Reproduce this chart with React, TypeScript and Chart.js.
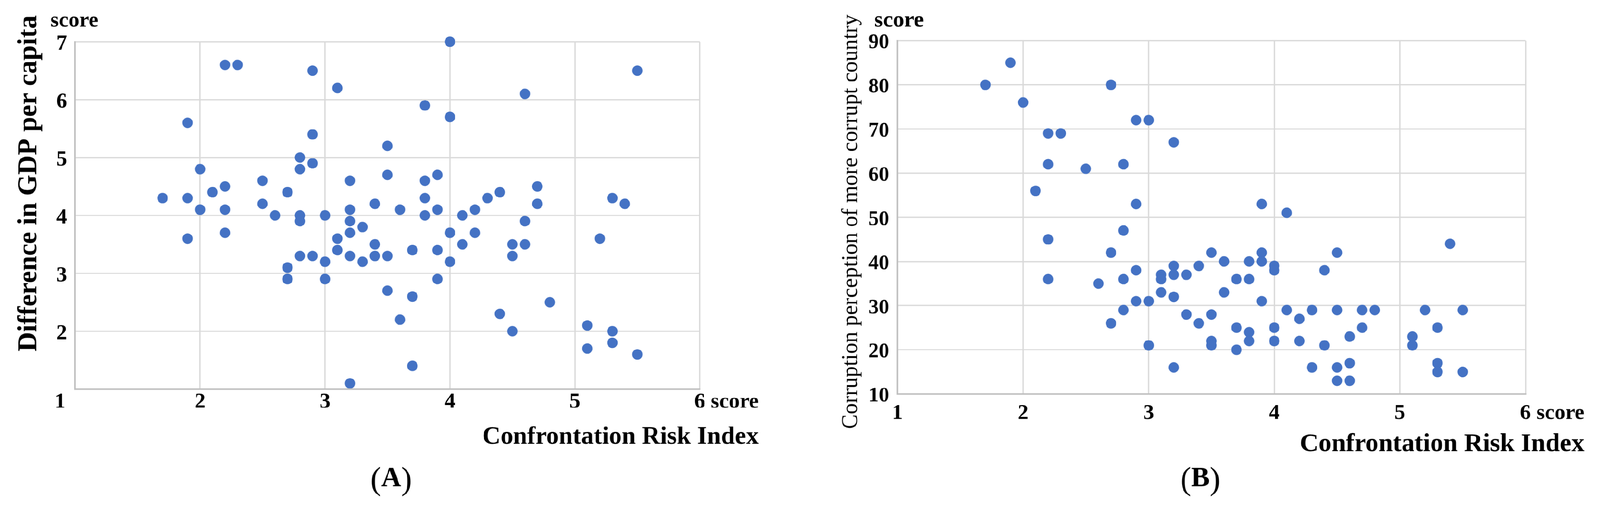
import React, { useEffect, useRef, useState } from "react";
import { Chart, registerables } from "chart.js";

Chart.register(...registerables);

// ---------- Data ----------
// Panel A: Confrontation Risk Index vs Difference in GDP per capita
const riskA = [
  1.7, 1.9, 1.9, 1.9, 2.0, 2.0, 2.1, 2.2, 2.3, 2.2,
  2.2, 2.2, 2.5, 2.5, 2.6, 2.7, 2.7, 2.7, 2.8, 2.8,
  2.8, 2.8, 2.8, 2.9, 2.9, 2.9, 2.9, 3.0, 3.0, 3.0,
  3.1, 3.1, 3.1, 3.2, 3.2, 3.2, 3.2, 3.2, 3.2, 3.3,
  3.3, 3.4, 3.4, 3.4, 3.5, 3.5, 3.5, 3.5, 3.6, 3.6,
  3.7, 3.7, 3.7, 3.8, 3.8, 3.8, 3.8, 3.9, 3.9, 3.9,
  3.9, 4.0, 4.0, 4.0, 4.0, 4.1, 4.1, 4.2, 4.2, 4.3,
  4.4, 4.4, 4.5, 4.5, 4.5, 4.6, 4.6, 4.6, 4.7, 4.7,
  4.8, 5.1, 5.1, 5.2, 5.3, 5.3, 5.3, 5.4, 5.5, 5.5,
];
const gdpDiff = [
  4.3, 5.6, 4.3, 3.6, 4.8, 4.1, 4.4, 6.6, 6.6, 4.5,
  4.1, 3.7, 4.6, 4.2, 4.0, 4.4, 3.1, 2.9, 5.0, 4.8,
  4.0, 3.9, 3.3, 6.5, 5.4, 4.9, 3.3, 4.0, 3.2, 2.9,
  6.2, 3.6, 3.4, 4.6, 4.1, 3.9, 3.7, 3.3, 1.1, 3.8,
  3.2, 4.2, 3.5, 3.3, 5.2, 4.7, 3.3, 2.7, 4.1, 2.2,
  3.4, 2.6, 1.4, 5.9, 4.6, 4.3, 4.0, 4.7, 4.1, 3.4,
  2.9, 7.0, 5.7, 3.7, 3.2, 4.0, 3.5, 4.1, 3.7, 4.3,
  4.4, 2.3, 3.5, 3.3, 2.0, 6.1, 3.9, 3.5, 4.5, 4.2,
  2.5, 2.1, 1.7, 3.6, 4.3, 2.0, 1.8, 4.2, 6.5, 1.6,
];

// Panel B: Confrontation Risk Index vs Corruption perception of more corrupt country
const riskB = [
  1.7, 1.9, 2.0, 2.1, 2.2, 2.2, 2.2, 2.2, 2.3, 2.5,
  2.6, 2.7, 2.7, 2.7, 2.8, 2.8, 2.8, 2.8, 2.9, 2.9,
  2.9, 2.9, 3.0, 3.0, 3.0, 3.1, 3.1, 3.1, 3.2, 3.2,
  3.2, 3.2, 3.2, 3.3, 3.3, 3.4, 3.4, 3.5, 3.5, 3.5,
  3.5, 3.6, 3.6, 3.7, 3.7, 3.7, 3.8, 3.8, 3.8, 3.8,
  3.9, 3.9, 3.9, 3.9, 4.0, 4.0, 4.0, 4.0, 4.1, 4.1,
  4.2, 4.2, 4.3, 4.3, 4.4, 4.4, 4.5, 4.5, 4.5, 4.5,
  4.6, 4.6, 4.6, 4.7, 4.7, 4.8, 5.1, 5.1, 5.2, 5.3,
  5.3, 5.3, 5.4, 5.5, 5.5,
];
const corruption = [
  80, 85, 76, 56, 69, 62, 45, 36, 69, 61,
  35, 80, 42, 26, 62, 47, 36, 29, 72, 53,
  38, 31, 72, 31, 21, 37, 36, 33, 67, 39,
  37, 32, 16, 37, 28, 39, 26, 42, 28, 22,
  21, 40, 33, 36, 25, 20, 40, 36, 24, 22,
  53, 42, 40, 31, 39, 38, 25, 22, 51, 29,
  27, 22, 29, 16, 38, 21, 42, 29, 16, 13,
  23, 17, 13, 29, 25, 29, 23, 21, 29, 25,
  17, 15, 44, 29, 15,
];

const xRange = [1, 6];
const yRangeA = [1, 7];
const yRangeB = [10, 90];

const xTitle = "Confrontation Risk Index";
const yTitleA = "Difference in GDP per capita";
const yTitleB = "Corruption perception of more corrupt country";
const unitLabel = "score";
const panelA = "A";
const panelB = "B";

// ---------- Styling ----------
const FONT = "'Liberation Serif', 'Times New Roman', serif";
const DOT = "#4472C4";
const GRID = "#D9D9D9";
const AXIS = "#BFBFBF";
const PAGE_W = 4263;
const PAGE_H = 1330;

type Spec = {
  canvasW: number;
  canvasH: number;
  pad: { left: number; top: number; right: number; bottom: number };
  yAxisW: number;
  xAxisH: number;
  yTickSize: number;
  yTickPad: number;
  xTickSize: number;
  xTickPad: number;
  hideYMin: boolean;
  firstXLabelShift: number; // 0 = normal tick label
  unitX: number;
  unitY: number;
  unitSize: number;
  xTitleSize: number;
  xTitleY: number;
  yTitle: string;
  yTitleWeight: string;
  yTitleSize: number;
  yTitleX: number;
  yTitleY: number;
  panel: string;
  panelX: number;
  panelY: number;
};

function textPlugin(spec: Spec) {
  return {
    id: "customText",
    afterDraw(chart: any) {
      const ctx = chart.ctx as CanvasRenderingContext2D;
      const xs = chart.scales.x;
      ctx.save();
      ctx.fillStyle = "#000";

      const tickY = xs.top + spec.xTickPad + (spec.xTickSize * 1.2) / 2;

      // unit label above y axis
      ctx.font = `bold ${spec.unitSize}px ${FONT}`;
      ctx.textAlign = "left";
      ctx.textBaseline = "alphabetic";
      ctx.fillText(unitLabel, spec.unitX, spec.unitY);

      ctx.font = `bold ${spec.xTickSize}px ${FONT}`;
      // first x label drawn shifted left (as in the original)
      if (spec.firstXLabelShift) {
        ctx.textAlign = "center";
        ctx.textBaseline = "middle";
        ctx.fillText(String(xs.min), xs.getPixelForValue(xs.min) + spec.firstXLabelShift, tickY);
      }

      // unit label after last x tick
      ctx.textAlign = "left";
      const last = xs.max;
      const px = xs.getPixelForValue(last);
      const lastStr = String(last);
      const wLast = ctx.measureText(lastStr).width;
      const wWithSpace = ctx.measureText(lastStr + " ").width;
      const ux = px - wLast / 2 + wWithSpace;
      ctx.textBaseline = "middle";
      ctx.fillText(unitLabel, ux, tickY);
      const unitEnd = ux + ctx.measureText(unitLabel).width;

      // x axis title, right aligned with the unit label
      ctx.font = `bold ${spec.xTitleSize}px ${FONT}`;
      ctx.textAlign = "right";
      ctx.textBaseline = "alphabetic";
      ctx.fillText(xTitle, unitEnd, spec.xTitleY);

      // y axis title
      ctx.save();
      ctx.translate(spec.yTitleX, spec.yTitleY);
      ctx.rotate(-Math.PI / 2);
      ctx.font = `${spec.yTitleWeight} ${spec.yTitleSize}px ${FONT}`;
      ctx.textAlign = "center";
      ctx.textBaseline = "middle";
      ctx.fillText(spec.yTitle, 0, 0);
      ctx.restore();

      // panel label "(A)" with bold letter
      const parenFont = `normal 86px ${FONT}`;
      const letterFont = `bold 74px ${FONT}`;
      ctx.textAlign = "left";
      ctx.textBaseline = "alphabetic";
      ctx.font = parenFont;
      const wp1 = ctx.measureText("(").width;
      const wp2 = ctx.measureText(")").width;
      ctx.font = letterFont;
      const wl = ctx.measureText(spec.panel).width;
      let x0 = spec.panelX - (wp1 + wl + wp2) / 2;
      ctx.font = parenFont;
      ctx.fillText("(", x0, spec.panelY + 8);
      x0 += wp1;
      ctx.font = letterFont;
      ctx.fillText(spec.panel, x0, spec.panelY);
      x0 += wl;
      ctx.font = parenFont;
      ctx.fillText(")", x0, spec.panelY + 8);

      ctx.restore();
    },
  };
}

function buildConfig(xs: number[], ys: number[], yRange: number[], yStep: number, spec: Spec, dpr: number) {
  return {
    type: "scatter" as const,
    data: {
      datasets: [
        {
          data: xs.map((x, i) => ({ x, y: ys[i] })),
          backgroundColor: DOT,
          borderColor: DOT,
          borderWidth: 0,
          pointRadius: 14,
          pointHoverRadius: 14,
          clip: false as any,
        },
      ],
    },
    options: {
      responsive: false,
      maintainAspectRatio: false,
      animation: false as const,
      devicePixelRatio: dpr,
      events: [] as any,
      layout: { padding: spec.pad },
      plugins: {
        legend: { display: false },
        tooltip: { enabled: false },
        title: { display: false },
      },
      scales: {
        x: {
          type: "linear" as const,
          min: xRange[0],
          max: xRange[1],
          ticks: {
            stepSize: 1,
            padding: spec.xTickPad,
            color: "#000",
            maxRotation: 0,
            font: { family: FONT, size: spec.xTickSize, weight: "bold" as const },
            callback: (v: any) => (spec.firstXLabelShift && v === xRange[0] ? "" : String(v)),
          },
          grid: { color: GRID, lineWidth: 3.5, drawTicks: false },
          border: { color: AXIS, width: 4 },
          afterFit: (s: any) => {
            s.height = spec.xAxisH;
          },
        },
        y: {
          type: "linear" as const,
          min: yRange[0],
          max: yRange[1],
          ticks: {
            stepSize: yStep,
            padding: spec.yTickPad,
            labelOffset: 6,
            color: "#000",
            font: { family: FONT, size: spec.yTickSize, weight: "bold" as const },
            callback: (v: any) => (spec.hideYMin && v === yRange[0] ? "" : String(v)),
          },
          grid: { color: GRID, lineWidth: 3.5, drawTicks: false },
          border: { color: AXIS, width: 4 },
          afterFit: (s: any) => {
            s.width = spec.yAxisW;
          },
        },
      },
    },
    plugins: [textPlugin(spec)],
  };
}

const specA: Spec = {
  canvasW: 2130,
  canvasH: 1330,
  pad: { left: 0, top: 111, right: 266, bottom: 175 },
  yAxisW: 200,
  xAxisH: 120,
  yTickSize: 58,
  yTickPad: 21,
  xTickSize: 58,
  xTickPad: 0,
  hideYMin: true,
  firstXLabelShift: -40,
  unitX: 134,
  unitY: 71,
  unitSize: 58,
  xTitleSize: 67,
  xTitleY: 1180,
  yTitle: yTitleA,
  yTitleWeight: "bold",
  yTitleSize: 72,
  yTitleX: 78,
  yTitleY: 488,
  panel: panelA,
  panelX: 1042,
  panelY: 1294,
};

const specB: Spec = {
  canvasW: 2133,
  canvasH: 1330,
  pad: { left: 0, top: 108, right: 199, bottom: 162 },
  yAxisW: 261,
  xAxisH: 120,
  yTickSize: 55,
  yTickPad: 22,
  xTickSize: 58,
  xTickPad: 17,
  hideYMin: false,
  firstXLabelShift: 0,
  unitX: 199,
  unitY: 71,
  unitSize: 60,
  xTitleSize: 69,
  xTitleY: 1200,
  yTitle: yTitleB,
  yTitleWeight: "normal",
  yTitleSize: 59,
  yTitleX: 138,
  yTitleY: 590,
  panel: panelB,
  panelX: 1068,
  panelY: 1294,
};

function ScatterPanel(props: {
  xs: number[];
  ys: number[];
  yRange: number[];
  yStep: number;
  spec: Spec;
  left: number;
  dpr: number;
}) {
  const ref = useRef<HTMLCanvasElement | null>(null);
  useEffect(() => {
    if (!ref.current) return;
    const chart = new Chart(
      ref.current,
      buildConfig(props.xs, props.ys, props.yRange, props.yStep, props.spec, props.dpr) as any
    );
    return () => chart.destroy();
  }, []);
  const { spec } = props;
  return (
    <canvas
      ref={ref}
      width={spec.canvasW}
      height={spec.canvasH}
      style={{ position: "absolute", left: props.left, top: 0, width: spec.canvasW, height: spec.canvasH }}
    />
  );
}

function viewportScale(): number {
  const w = document.documentElement.clientWidth || window.innerWidth || PAGE_W;
  const h = window.innerHeight || document.documentElement.clientHeight || PAGE_H;
  const s = Math.min(w / PAGE_W, h / PAGE_H);
  return isFinite(s) && s > 0 ? s : 1;
}

export default function App() {
  const [scale] = useState(viewportScale);
  const dpr = scale * (window.devicePixelRatio || 1);
  return (
    <div
      style={{
        position: "absolute",
        left: 0,
        top: 0,
        width: PAGE_W,
        height: PAGE_H,
        background: "#fff",
        overflow: "hidden",
        transform: `scale(${scale})`,
        transformOrigin: "0 0",
      }}
    >
      <ScatterPanel xs={riskA} ys={gdpDiff} yRange={yRangeA} yStep={1} spec={specA} left={0} dpr={dpr} />
      <ScatterPanel xs={riskB} ys={corruption} yRange={yRangeB} yStep={10} spec={specB} left={2130} dpr={dpr} />
    </div>
  );
}
